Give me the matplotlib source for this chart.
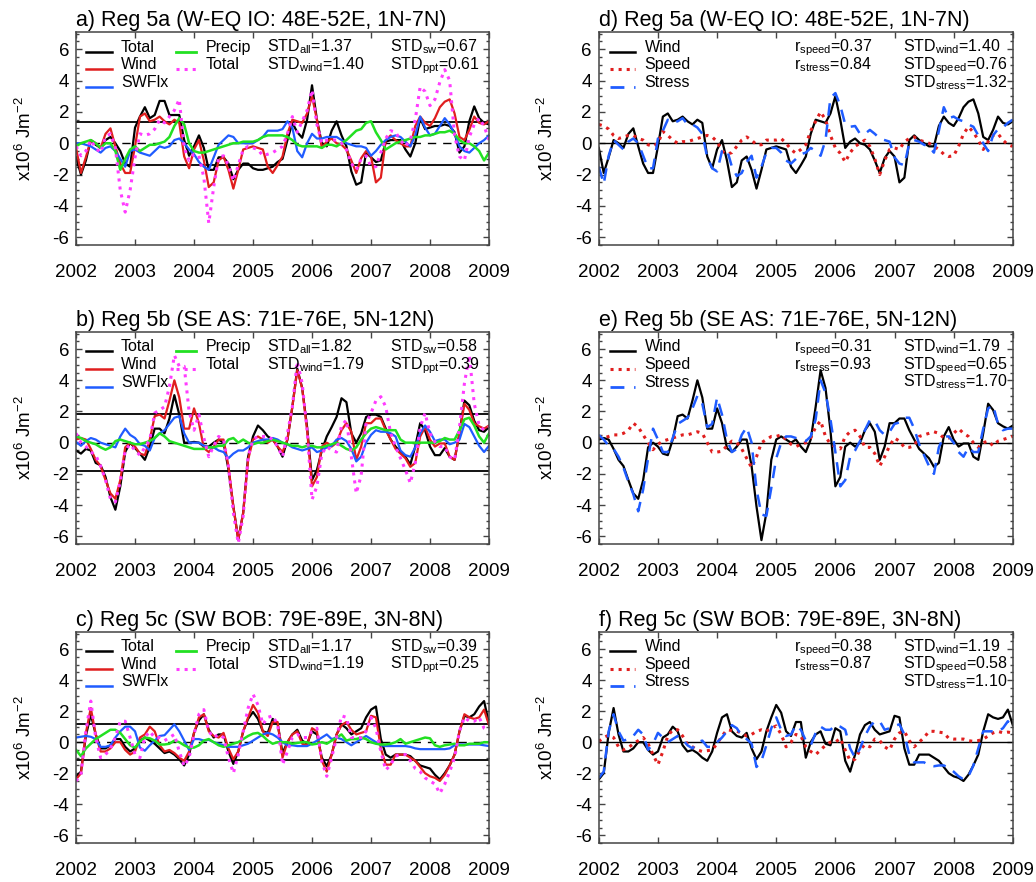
import numpy as np
import matplotlib.pyplot as plt
from matplotlib.ticker import MultipleLocator

plt.rcParams['font.family'] = ['Liberation Sans', 'DejaVu Sans']
plt.rcParams['mathtext.default'] = 'regular'
plt.rcParams['axes.unicode_minus'] = False

# monthly values Jan 2002 .. Jan 2009, units x10^6 J m^-2
months = np.arange(85)
time = 2002 + months / 12.0
years = [2002, 2003, 2004, 2005, 2006, 2007, 2008, 2009]

# ---- Reg 5a (W-EQ IO) ----
total_5a = [-0.9, -2.0, -1.1, 0.2, -0.1, -0.3, 0.2, 0.4, 0.0, -0.5, -1.3, -1.5,
            1.0, 1.7, 2.3, 1.6, 1.8, 2.7, 2.7, 1.8, 1.8, 1.8, 0.2, -0.8,
            -0.2, 0.5, -0.3, -1.7, -1.7, -0.9, -0.9, -1.3, -2.3, -1.7, -1.3, -1.3,
            -1.6, -1.7, -1.7, -1.6, -1.5, -1.2, -1.0, 0.2, 1.3, 0.7, 0.35, 1.5,
            3.7, 1.5, 0.0, -0.2, 0.8, 1.4, 0.5, -0.2, -1.8, -2.65, -2.5, -0.6,
            -0.9, -1.2, -1.1, 0.1, 0.2, 0.2, 0.2, -0.4, -0.85, 0.0, 1.6, 0.9,
            1.0, 1.1, 1.1, 1.2, 1.1, 0.7, -0.6, -0.2, 1.4, 2.35, 1.6, 1.3,
            1.2]
wind_5a = [-0.3, -1.9, -0.9, 0.2, 0.0, -0.3, 0.6, 0.95, -0.2, -1.3, -1.9, -1.9,
           -0.2, 1.7, 1.9, 1.4, 1.5, 1.7, 1.4, 1.2, 1.5, 1.3, -0.85, -1.6,
           -0.4, 0.2, -1.1, -2.8, -2.5, -1.1, -0.85, -1.7, -2.9, -1.7, -0.4, -0.3,
           -0.2, -0.3, -0.4, -1.5, -1.9, -1.4, -0.85, 0.6, 1.5, 1.4, 1.3, 1.9,
           3.0, 1.5, -0.3, 0.1, 0.3, 0.0, -0.1, -0.4, -1.1, -1.9, -0.95, -0.5,
           -0.85, -2.5, -2.2, 0.2, 0.5, 0.2, 0.0, -0.2, -0.2, 1.1, 1.7, 1.3,
           1.1, 1.6, 2.3, 2.65, 2.8, 1.9, 0.4, 0.2, 0.85, 1.7, 1.3, 1.2,
           1.4]
swflx_5a = [0.0, 0.0, -0.1, -0.2, -0.4, -0.6, -0.3, -0.2, -0.5, -1.0, -1.5, -0.5,
            -0.4, -0.6, -0.7, -0.8, -0.5, -0.2, -0.3, -0.2, 0.2, 0.3, 0.0, -0.4,
            -0.7, -1.2, -1.5, -1.7, -0.9, -0.1, 0.2, 0.5, 0.4, 0.0, 0.0, 0.0,
            0.0, 0.2, 0.4, 0.8, 0.8, 0.8, 0.9, 1.4, 1.0, -0.5, -0.9, 0.0,
            0.6, 0.3, 0.3, 0.4, 0.4, 0.4, 0.2, 0.0, -0.1, -0.2, -0.2, -0.3,
            -0.8, -0.5, -0.1, 0.2, 0.4, 0.5, 0.4, 0.1, -0.2, 0.5, 1.7, 1.0,
            0.5, 0.6, 1.1, 1.6, 1.2, 0.6, -0.2, -0.5, -0.6, -0.3, 0.0, 0.2,
            0.5]
precip_5a = [-0.2, 0.0, 0.1, 0.2, 0.0, -0.3, 0.0, 0.0, -0.5, -1.7, -1.0, -0.4,
             -0.2, -0.5, -0.3, -0.1, -0.1, 0.0, 0.1, 0.4, 1.1, 1.6, 1.2, 0.0,
             -0.5, -0.6, -0.6, -0.5, -0.4, -0.3, -0.2, -0.1, 0.0, 0.0, 0.1, 0.1,
             0.1, 0.2, 0.4, 0.5, 0.5, 0.5, 0.5, 0.4, 0.2, -0.1, -0.2, -0.2,
             -0.2, -0.2, -0.3, -0.1, -0.1, -0.2, 0.0, 0.2, 0.5, 0.8, 0.9, 1.3,
             1.4, 0.7, 0.2, -0.4, -0.2, 0.0, 0.1, 0.2, 0.3, 0.4, 0.4, 0.5,
             0.5, 0.6, 0.7, 0.7, 0.8, 0.6, 0.2, 0.0, 0.0, -0.2, -0.5, -1.1,
             -0.6]
total2_5a = [-0.2, -0.8, -0.5, 0.2, -0.3, -0.6, 0.4, 0.6, -0.3, -3.0, -4.4, -3.0,
             -0.9, 0.6, 0.5, 0.6, 0.9, 1.5, 1.3, 1.7, 2.1, 2.8, -0.3, -1.1,
             -0.7, -0.8, -2.2, -5.1, -2.8, -0.9, -0.8, -1.4, -2.4, -1.4, -0.4, -0.2,
             -0.3, -0.4, -0.8, -0.7, -0.6, -0.4, -0.2, 0.6, 1.7, 0.7, 1.4, 2.1,
             3.4, 1.2, 0.0, 0.2, 0.2, 0.2, 0.0, -0.4, -1.3, -1.7, -1.0, -0.8,
             -1.5, -1.5, -0.6, 0.3, 0.8, 0.7, 0.2, -0.2, 0.2, 1.5, 3.6, 3.3,
             2.4, 2.8, 3.9, 4.7, 4.0, 0.5, -0.85, -1.1, 0.4, 1.2, 1.6, 1.1,
             0.2]
speed_5a = [1.2, 1.1, 0.9, 0.5, 0.3, 0.4, 0.5, 0.5, 0.3, 0.2, -0.1, -0.2,
            0.0, 0.75, 0.5, 0.2, 0.0, 0.1, 0.1, 0.2, 0.3, 0.4, 0.5, 0.4,
            0.1, -0.5, -0.7, -0.6, -0.2, 0.2, 0.4, 0.2, -0.1, -0.1, 0.2, 0.2,
            0.2, 0.3, 0.0, -0.4, -0.65, -0.4, -0.1, 0.8, 1.4, 2.0, 1.5, 0.5,
            -0.3, -0.65, -1.2, -0.6, -0.2, 0.0, 0.2, -0.2, -1.0, -2.0, -1.1, -0.4,
            -0.3, -0.4, 0.1, 0.3, 0.4, 0.2, 0.1, 0.0, -0.2, -0.4, -0.7, -0.85,
            -0.8, -0.2, 0.6, 1.05, 0.7, 0.2, -0.4, 0.1, 0.5, 0.6, 0.2, -0.1,
            -0.2]
stress_5a = [-1.5, -2.6, -0.8, 0.2, -0.1, -0.4, 0.1, 0.3, 0.0, -0.8, -1.6, -1.6,
             0.3, 0.8, 1.5, 1.3, 1.4, 1.6, 1.2, 1.2, 1.0, 0.6, -0.9, -1.6,
             -1.8, -0.5, -0.4, -1.5, -2.1, -1.9, -1.2, -0.8, -2.2, -1.5, -0.6, -0.3,
             -0.3, -0.6, -1.1, -1.3, -1.0, -0.7, -0.6, -0.3, -0.5, -0.8, 0.2, 2.9,
             3.2, 2.4, 1.2, 1.05, 1.1, 0.6, 0.6, 0.85, 0.6, 0.3, 0.2, 0.1,
             -0.9, -1.3, -1.4, 0.0, 0.2, 0.1, -0.1, -0.2, -0.6, 0.8, 2.3, 1.6,
             1.7, 1.5, 1.4, 1.2, 1.05, 0.5, 0.0, -0.5, 0.5, 0.9, 1.0, 1.3,
             1.5]

# ---- Reg 5b (SE AS) ----
total_5b = [-0.5, -0.7, -0.4, -0.5, -1.3, -1.45, -2.2, -3.5, -4.3, -2.8, -0.6, 0.0,
            -0.35, -0.7, -1.1, -0.25, 0.9, 0.9, 0.6, 1.55, 3.05, 1.8, 0.0, 0.0,
            0.05, 0.0, -0.25, -0.25, 0.0, 0.2, 0.0, -1.7, -4.1, -6.2, -4.5, -0.9,
            0.4, 1.1, 0.8, 0.4, 0.2, -0.25, -0.9, 0.2, 2.3, 4.75, 3.5, 1.0,
            -2.4, -1.75, -0.5, 0.4, 1.0, 1.65, 2.85, 2.6, 0.6, 0.0, 0.6, 1.65,
            1.8, 1.8, 1.65, 0.9, 0.2, -0.25, -0.6, -0.9, -1.4, -0.25, 1.25, 0.8,
            -0.25, -0.8, -0.8, -0.35, -0.9, -1.1, 0.6, 2.7, 2.4, 1.4, 0.8, 0.7,
            1.0]
wind_5b = [0.2, 0.3, 0.2, -0.4, -1.1, -1.5, -2.4, -3.25, -3.6, -2.4, -0.3, 0.0,
           -0.25, -0.7, -0.8, 0.2, 1.7, 1.8, 1.55, 2.7, 4.0, 2.9, 0.9, 0.9,
           2.2, 1.25, -0.35, -0.6, -0.25, 0.2, 0.2, -1.5, -4.1, -6.25, -4.5, -1.1,
           0.2, 0.4, 0.2, 0.0, 0.2, -0.25, -0.6, 0.2, 2.3, 4.65, 3.5, 0.8,
           -2.8, -2.2, -0.25, 0.0, -0.25, 0.0, 0.8, 1.25, 0.7, -1.1, -0.25, 1.25,
           1.25, 1.55, 1.55, 0.8, 0.2, -0.4, -0.7, -1.0, -1.55, -1.3, 0.4, 1.0,
           0.2, -0.25, -0.05, -0.05, -0.9, -1.1, 0.6, 2.5, 2.1, 1.25, 1.05, 0.9,
           1.1]
swflx_5b = [0.05, -0.2, 0.1, 0.3, 0.2, 0.0, -0.1, -0.2, -0.3, 0.4, 0.9, 0.5,
            0.3, -0.1, -0.2, -0.5, 0.3, 0.6, 0.8, 1.2, 1.6, 1.7, 0.6, 0.0,
            0.0, 0.0, -0.2, -0.3, -0.3, -0.5, -0.6, -1.0, -0.7, -0.5, -0.5, -0.3,
            0.0, 0.1, 0.2, 0.2, 0.3, 0.2, 0.0, -0.1, -0.3, -0.4, -0.5, -0.4,
            -0.3, -0.6, -0.5, -0.3, -0.2, 0.2, 0.3, 0.1, -0.4, -1.2, -0.9, 0.0,
            0.5, 0.8, 0.7, 0.7, 0.6, 0.4, -0.5, -0.8, -0.9, -0.3, 0.6, 1.1,
            0.7, 0.1, 0.2, 0.2, -0.1, 0.0, 0.2, 1.2, 1.0, 0.4, -0.2, -0.6,
            -0.2]
precip_5b = [0.4, 0.3, 0.1, 0.0, -0.1, -0.3, -0.45, -0.3, 0.1, 0.2, 0.1, 0.0,
             -0.1, -0.1, 0.0, 0.1, 0.3, 0.6, 0.4, 0.1, 0.0, -0.1, -0.2, -0.3,
             -0.4, -0.4, -0.4, -0.3, -0.3, -0.2, -0.2, 0.2, 0.3, 0.0, 0.2, 0.0,
             -0.1, 0.0, 0.0, 0.1, 0.2, 0.1, 0.0, -0.1, -0.2, -0.2, -0.3, -0.2,
             -0.2, -0.3, -0.3, -0.2, -0.1, 0.0, -0.2, -0.4, -0.5, -0.3, 0.2, 0.6,
             0.9, 1.0, 0.9, 0.8, 0.8, 0.8, 0.2, 0.0, 0.0, 0.0, 0.0, 0.0,
             0.0, 0.0, 0.1, 0.3, 0.2, 0.2, 0.8, 1.5, 1.6, 1.1, 0.4, 0.0,
             0.6]
total2_5b = [0.6, 0.0, -0.25, -0.6, -0.8, -1.5, -2.4, -3.6, -3.8, -2.5, -0.5, -0.1,
             -0.5, -0.8, -0.3, 0.2, 1.9, 2.1, 2.3, 3.6, 5.6, 4.9, 4.9, 2.0,
             0.8, 1.8, 0.3, -0.9, -0.2, 0.4, 0.2, -1.5, -4.5, -6.45, -4.7, -0.9,
             0.2, 0.4, 0.4, 0.4, 0.2, -0.25, -0.9, 0.6, 2.3, 5.2, 3.8, 0.8,
             -3.65, -2.8, -0.7, -0.25, -0.5, -0.6, 1.1, 1.45, -0.9, -3.25, -2.1, 1.25,
             1.9, 2.7, 2.95, 2.3, 0.6, -0.25, -1.0, -1.75, -2.6, -1.3, 1.0, 1.9,
             0.6, 0.05, -0.25, -0.25, -0.9, -1.1, 1.0, 3.8, 5.6, 2.5, 1.1, 0.8,
             1.0]
speed_5b = [0.4, 0.3, 0.4, 0.5, 0.5, 0.6, 0.8, 1.25, 1.0, 0.5, 0.0, -0.45,
            -0.1, 0.1, 0.2, 0.3, 0.4, 0.5, 0.5, 0.6, 0.7, 0.6, 0.0, -0.6,
            -0.6, -0.55, -0.2, 0.1, 0.0, -0.4, -1.0, -1.6, -0.9, 0.0, 0.2, 0.4,
            0.4, 0.5, 0.2, -0.1, -0.25, -0.1, 0.0, 0.3, 1.0, 1.4, 0.4, -0.1,
            -0.25, -0.4, 0.4, 0.7, 0.8, 0.4, -0.3, -0.3, -0.7, -1.5, -0.9, -0.2,
            0.3, 0.1, -0.3, -0.3, -0.2, 0.4, 0.5, 0.6, 0.7, 0.6, 0.3, 0.3,
            0.6, 0.9, 0.6, 0.4, 0.0, -0.3, 0.0, 0.1, -0.2, 0.1, 0.2, 0.3,
            0.4]
stress_5b = [0.5, 0.2, -0.2, -0.4, -0.9, -1.6, -2.5, -3.3, -4.4, -3.0, -1.0, 0.9,
             0.2, -0.6, -0.6, 0.3, 1.2, 1.4, 1.6, 2.2, 3.0, 2.5, 1.0, 1.2,
             2.9, 1.8, 0.2, -0.6, -0.4, 0.5, 1.0, 0.0, -3.0, -4.6, -4.7, -2.9,
             -1.0, 0.0, 0.4, 0.4, 0.3, 0.2, 0.1, 0.4, 1.5, 4.0, 3.2, 1.5,
             -0.6, -2.8, -2.4, -0.9, -0.5, 0.1, 0.8, 1.45, 1.4, 0.8, 0.5, 0.7,
             1.2, 1.3, 1.6, 1.6, 0.9, -0.1, -0.8, -1.5, -2.0, -0.3, 0.4, 0.4,
             0.0, -0.6, -0.9, -0.3, -0.6, -0.6, 0.9, 2.2, 2.4, 1.2, 0.8, 0.9,
             0.9]

# ---- Reg 5c (SW BOB) ----
total_5c = [-2.2, -1.9, 0.4, 1.8, 0.5, -0.4, -0.4, -0.2, 0.2, 0.2, -0.3, -0.6,
            -0.4, 0.1, 0.3, 0.1, -0.1, -0.4, -0.7, -0.6, -0.8, -1.1, -1.5, -0.8,
            0.6, 1.4, 1.8, 0.8, 0.3, 0.5, 0.5, -0.6, -1.4, -0.6, 0.7, 1.5,
            1.95, 1.5, 0.7, 0.6, 1.5, 1.2, -0.7, 0.0, 0.5, 0.8, 0.1, -0.1,
            0.7, 0.5, -1.0, -1.55, -0.8, 0.5, 1.15, 0.9, 0.5, 0.7, 0.9, 1.6,
            2.1, 2.3, 0.2, -0.8, -1.0, -0.8, -0.8, -0.8, -0.9, -1.2, -1.5, -1.6,
            -1.7, -2.1, -2.4, -2.0, -1.5, -0.8, 0.7, 1.7, 1.6, 1.8, 2.3, 2.65,
            1.2]
wind_5c = [-2.4, -2.0, 0.6, 2.2, 0.5, -0.6, -0.6, -0.4, 0.0, 0.0, -0.5, -0.8,
           -0.6, 0.3, 0.5, 1.0, 0.7, -0.2, -0.6, -0.5, -0.7, -1.0, -1.2, -0.6,
           0.6, 1.6, 1.8, 0.7, 0.4, 0.3, 0.6, -0.4, -1.1, -0.6, 0.7, 1.6,
           2.4, 1.9, 0.7, 0.4, 1.3, 1.3, -1.0, 0.0, 0.5, 0.7, -0.1, -0.2,
           0.9, 0.7, -1.2, -1.9, -0.8, 0.5, 1.1, 1.3, 0.8, 0.5, 0.6, 0.7,
           1.7, 1.6, -0.4, -1.45, -1.45, -0.8, -0.8, -0.8, -1.0, -1.2, -1.6, -2.0,
           -2.2, -2.3, -2.5, -2.1, -1.5, -0.8, 0.7, 1.8, 1.6, 1.5, 1.6, 2.1,
           1.1]
swflx_5c = [0.3, 0.35, 0.4, 0.35, 0.2, -0.3, -0.3, -0.2, 0.3, 0.7, 1.0, 1.0,
            0.7, -0.35, -0.55, -0.2, 0.1, 0.4, 0.45, 0.8, 1.15, 0.7, 0.1, -0.5,
            0.2, 0.2, 0.1, 0.15, 0.0, -0.1, -0.2, -0.3, -0.3, -0.3, -0.2, -0.1,
            0.1, 0.3, 0.5, 0.6, 0.5, 0.3, 0.0, -0.2, -0.2, -0.25, -0.25, -0.25,
            -0.1, 0.1, 0.3, 0.5, 0.2, 0.3, 0.2, 0.0, -0.2, 0.0, 0.2, 0.4,
            0.2, 0.0, -0.2, -0.25, -0.25, -0.25, -0.25, -0.25, -0.3, -0.4, -0.45, -0.45,
            -0.45, -0.45, -0.45, -0.45, -0.4, -0.2, -0.15, -0.15, -0.15, -0.15, -0.15, -0.2,
            -0.25]
precip_5c = [-0.5, -0.9, -0.4, -0.1, 0.2, 0.4, 0.6, 0.8, 0.8, 0.6, 0.2, -0.2,
             -0.35, 0.05, 0.3, 0.25, 0.1, -0.15, -0.15, -0.1, 0.1, 0.0, -0.2, -0.35,
             -0.35, -0.2, 0.1, 0.2, 0.0, -0.2, -0.3, -0.2, -0.1, 0.0, 0.2, 0.4,
             0.55, 0.6, 0.4, 0.1, -0.1, 0.0, 0.0, 0.0, -0.1, -0.05, 0.0, 0.0,
             -0.15, -0.1, 0.0, -0.1, 0.1, 0.3, 0.5, 0.1, 0.2, 0.2, 0.3, 0.2,
             0.0, -0.1, -0.15, -0.15, -0.1, 0.0, 0.2, -0.1, 0.0, 0.1, 0.2, 0.3,
             0.25, -0.2, -0.3, -0.2, -0.15, -0.1, -0.2, -0.2, -0.1, -0.1, -0.1, 0.0,
             0.0]
total2_5c = [-2.5, -2.1, 0.7, 2.65, 0.3, -1.0, -0.8, -0.4, 0.3, 1.35, 1.35, 0.3,
             -0.8, -1.0, 0.3, 0.7, 0.3, 0.3, 0.1, 0.3, 0.5, -0.6, -1.55, -1.0,
             0.5, 1.8, 2.1, 0.7, 0.3, 0.5, 0.3, -1.0, -2.0, -0.8, 0.7, 2.2,
             3.1, 2.4, 1.15, 1.6, 1.7, 1.15, -1.45, -0.6, 0.3, 0.5, 0.3, 0.3,
             0.7, 0.9, -1.25, -2.2, -1.0, 0.3, 1.7, 1.6, 0.3, 0.3, 0.3, 0.7,
             1.6, 0.9, -0.6, -1.8, -1.45, -0.9, -0.8, -0.8, -1.2, -1.7, -1.9, -2.3,
             -2.5, -2.7, -3.3, -2.7, -1.9, -1.0, 0.7, 1.6, 1.35, 1.35, 1.6, 0.9,
             0.7]
speed_5c = [0.05, 0.3, 0.45, 0.3, -0.3, -0.5, -0.35, -0.1, 0.1, 0.3, -0.1, -0.8,
            -1.45, -0.6, 0.4, 0.8, 0.8, 0.4, -0.15, -0.3, -0.5, -0.6, -0.55, -0.5,
            -0.1, 0.4, 0.8, 0.75, 0.7, 0.6, 0.4, 0.5, 0.7, 0.8, 0.7, 0.9,
            1.05, 0.5, -0.3, 0.0, 0.5, 0.4, -0.3, -0.6, -0.8, -0.5, -0.2, 0.0,
            0.0, 0.25, -0.5, -1.2, -1.1, -0.5, -0.15, -0.3, 0.2, 0.1, -0.3, -0.5,
            0.2, 0.6, 0.7, 0.1, -0.3, 0.0, 0.3, 0.7, 0.7, 0.65, 0.6, 0.25,
            0.2, 0.2, 0.2, 0.1, 0.05, 0.1, 0.2, 0.4, 0.6, 0.7, 0.6, 0.65,
            0.6]
stress_5c = [-2.3, -1.9, 0.7, 1.8, 0.7, 0.1, 0.2, 0.4, 0.8, 0.5, -0.5, -0.1,
             0.6, 0.3, 0.0, 0.2, 0.4, 0.2, -0.2, -0.4, 0.0, 0.1, -0.3, -0.3,
             0.0, 0.3, 0.7, 1.1, 0.9, 0.4, 0.2, -0.1, -1.6, -1.2, -0.2, 0.9,
             1.6, 0.8, 0.4, 0.5, 1.1, 0.8, 0.1, -0.2, 0.6, 1.0, 0.8, 0.8,
             1.1, 1.0, 0.8, -0.4, -1.0, -0.4, 0.4, 1.0, 1.35, 1.35, 0.8, 0.9,
             1.05, 1.15, 0.5, -0.8, -1.3, -1.3, -1.3, -1.5, -1.55, -1.5, -1.5, -1.65,
             -1.9, -2.2, -2.4, -2.2, -1.5, -0.4, 0.7, 0.7, 0.7, 0.7, 0.9, 1.35,
             0.9]

titles_left = ['a) Reg 5a (W-EQ IO: 48E-52E, 1N-7N)',
               'b) Reg 5b (SE AS: 71E-76E, 5N-12N)',
               'c) Reg 5c (SW BOB: 79E-89E, 3N-8N)']
titles_right = ['d) Reg 5a (W-EQ IO: 48E-52E, 1N-7N)',
                'e) Reg 5b (SE AS: 71E-76E, 5N-12N)',
                'f) Reg 5c (SW BOB: 79E-89E, 3N-8N)']
std_all = [1.37, 1.82, 1.17]
std_sw = [0.67, 0.58, 0.39]
std_wind = [1.40, 1.79, 1.19]
std_ppt = [0.61, 0.39, 0.25]
r_speed = [0.37, 0.31, 0.38]
r_stress = [0.84, 0.93, 0.87]
std_speed = [0.76, 0.65, 0.58]
std_stress = [1.32, 1.70, 1.10]

RED = '#e01e1e'
BLUE = '#1f5cff'
GREEN = '#22e022'
MAGENTA = '#ff3cff'
DOTS = ':'
DASHES = (0, (5, 3.5))
ROWS = [0.908, 0.826, 0.742]
FS = 11.5


def setup_axes(ax, title):
    ax.set_xlim(2002, 2009)
    ax.set_ylim(-6.5, 7.1)
    ax.set_xticks(years)
    ax.set_xticklabels([str(y) for y in years])
    ax.set_yticks(np.arange(-6, 7, 2))
    ax.yaxis.set_minor_locator(MultipleLocator(0.5))
    ax.tick_params(which='both', direction='in', top=True, right=True, width=1.0, color='#444444')
    ax.tick_params(axis='x', which='major', length=4, pad=14, labelsize=13.5)
    ax.tick_params(axis='y', which='major', length=4.5, pad=5, labelsize=13.5)
    ax.tick_params(axis='y', which='minor', length=2.5)
    for s in ax.spines.values():
        s.set_linewidth(1.1)
        s.set_color('#444444')
    ax.set_ylabel(r'x10$^{6}$ Jm$^{-2}$', fontsize=13.5)
    ax.yaxis.set_label_coords(-0.1, 0.5)
    ax.set_title(title, loc='left', fontsize=15.5, pad=4)


def key(ax, x0, x1, y, color, ls, lw=1.8):
    ax.plot([x0, x1], [y, y], transform=ax.transAxes, color=color, ls=ls, lw=lw, clip_on=False)


def note(ax, x, y, s):
    ax.text(x, y, s, transform=ax.transAxes, fontsize=FS, ha='left', va='baseline')


def budget_panel(ax, i, total, wind, swflx, precip, total2):
    setup_axes(ax, titles_left[i])
    ax.axhline(std_all[i], color='black', lw=1.3)
    ax.axhline(-std_all[i], color='black', lw=1.3)
    ax.axhline(0, color='black', lw=1.0, ls=(0, (6, 5)))
    ax.plot(time, total, color='black', lw=1.6)
    ax.plot(time, wind, color=RED, lw=1.6)
    ax.plot(time, swflx, color=BLUE, lw=1.6)
    ax.plot(time, precip, color=GREEN, lw=1.8)
    ax.plot(time, total2, color=MAGENTA, lw=2.2, ls=DOTS)

    key(ax, 0.025, 0.086, ROWS[0], 'black', '-')
    key(ax, 0.025, 0.086, ROWS[1], RED, '-')
    key(ax, 0.025, 0.086, ROWS[2], BLUE, '-')
    note(ax, 0.109, ROWS[0], 'Total')
    note(ax, 0.109, ROWS[1], 'Wind')
    note(ax, 0.109, ROWS[2], 'SWFlx')
    key(ax, 0.242, 0.29, ROWS[0], GREEN, '-', lw=2.0)
    key(ax, 0.242, 0.29, ROWS[1], MAGENTA, DOTS, lw=2.2)
    note(ax, 0.314, ROWS[0], 'Precip')
    note(ax, 0.314, ROWS[1], 'Total')
    note(ax, 0.462, ROWS[0], 'STD$_{all}$=%.2f' % std_all[i])
    note(ax, 0.462, ROWS[1], 'STD$_{wind}$=%.2f' % std_wind[i])
    note(ax, 0.76, ROWS[0], 'STD$_{sw}$=%.2f' % std_sw[i])
    note(ax, 0.76, ROWS[1], 'STD$_{ppt}$=%.2f' % std_ppt[i])


def wind_panel(ax, i, wind, speed, stress):
    setup_axes(ax, titles_right[i])
    ax.axhline(0, color='black', lw=1.0)
    ax.plot(time, wind, color='black', lw=1.6)
    ax.plot(time, speed, color=RED, lw=2.2, ls=DOTS)
    ax.plot(time, stress, color=BLUE, lw=1.8, ls=DASHES)

    key(ax, 0.027, 0.087, ROWS[0], 'black', '-')
    key(ax, 0.027, 0.087, ROWS[1], RED, DOTS, lw=2.2)
    key(ax, 0.027, 0.087, ROWS[2], BLUE, DASHES, lw=2.0)
    note(ax, 0.111, ROWS[0], 'Wind')
    note(ax, 0.111, ROWS[1], 'Speed')
    note(ax, 0.111, ROWS[2], 'Stress')
    note(ax, 0.471, ROWS[0], 'r$_{speed}$=%.2f' % r_speed[i])
    note(ax, 0.471, ROWS[1], 'r$_{stress}$=%.2f' % r_stress[i])
    note(ax, 0.734, ROWS[0], 'STD$_{wind}$=%.2f' % std_wind[i])
    note(ax, 0.734, ROWS[1], 'STD$_{speed}$=%.2f' % std_speed[i])
    note(ax, 0.734, ROWS[2], 'STD$_{stress}$=%.2f' % std_stress[i])


fig = plt.figure(figsize=(10.36, 8.82), dpi=100)
bottoms = [0.7222, 0.3832, 0.0442]
heights = [0.2415, 0.2404, 0.2392]

budget = [(total_5a, wind_5a, swflx_5a, precip_5a, total2_5a),
          (total_5b, wind_5b, swflx_5b, precip_5b, total2_5b),
          (total_5c, wind_5c, swflx_5c, precip_5c, total2_5c)]
winds = [(wind_5a, speed_5a, stress_5a),
         (wind_5b, speed_5b, stress_5b),
         (wind_5c, speed_5c, stress_5c)]

for i in range(3):
    axl = fig.add_axes([0.0734, bottoms[i], 0.3986, heights[i]])
    budget_panel(axl, i, *budget[i])
    axr = fig.add_axes([0.578, bottoms[i], 0.3996, heights[i]])
    wind_panel(axr, i, *winds[i])

fig.savefig('out.png', dpi=100)
